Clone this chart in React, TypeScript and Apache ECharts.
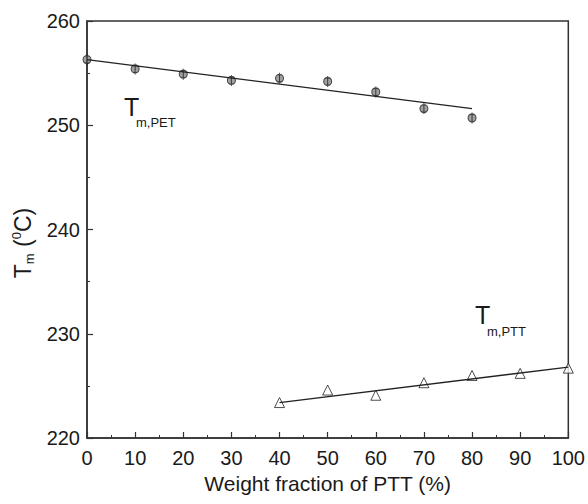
import { useEffect, useRef } from 'react';
import * as echarts from 'echarts';

const petX = [0, 10, 20, 30, 40, 50, 60, 70, 80];
const petY = [256.3, 255.4, 254.9, 254.3, 254.5, 254.2, 253.2, 251.6, 250.7];
const pttX = [40, 50, 60, 70, 80, 90, 100];
const pttY = [223.4, 224.6, 224.1, 225.3, 226.0, 226.2, 226.7];
const petFitX = [0, 80];
const petFitY = [256.3, 251.6];
const pttFitX = [40, 100];
const pttFitY = [223.4, 226.8];
const xTickValues = [0, 10, 20, 30, 40, 50, 60, 70, 80, 90, 100];
const yTickValues = [220, 230, 240, 250, 260];

const FONT = "'Liberation Sans', Arial, Helvetica, sans-serif";
const INK = '#1a1a1a';

const pair = (xs: number[], ys: number[]) => xs.map((x, i) => [x, ys[i]]);

export default function App() {
  const ref = useRef<HTMLDivElement>(null);
  useEffect(() => {
    if (!ref.current) return;
    const chart = echarts.init(ref.current, null, { renderer: 'svg' });
    const axisCommon = {
      axisLine: { show: true, lineStyle: { color: '#333', width: 1.5 } },
      axisTick: { show: true, inside: true, length: 6, lineStyle: { color: '#333', width: 1.2 } },
      minorTick: { show: true, splitNumber: 2, length: 3, lineStyle: { color: '#333', width: 1 } },
      splitLine: { show: false },
      axisLabel: { color: INK, fontSize: 20, fontFamily: FONT },
    };
    chart.setOption({
      animation: false,
      backgroundColor: '#fff',
      grid: {
        left: 87, right: 16, top: 21, bottom: 66,
        show: true, borderColor: '#333', borderWidth: 1.5, backgroundColor: 'transparent',
      },
      xAxis: {
        type: 'value', min: xTickValues[0], max: xTickValues[xTickValues.length - 1], interval: 10,
        ...axisCommon,
        axisLabel: { ...axisCommon.axisLabel, margin: 10 },
        name: 'Weight fraction of PTT (%)',
        nameLocation: 'middle', nameGap: 34,
        nameTextStyle: { color: INK, fontSize: 21, fontFamily: FONT },
      },
      yAxis: {
        type: 'value', min: yTickValues[0], max: yTickValues[yTickValues.length - 1], interval: 10,
        ...axisCommon,
        axisLabel: { ...axisCommon.axisLabel, margin: 7 },
      },
      series: [
        {
          type: 'line', data: pair(petFitX, petFitY), symbol: 'none',
          lineStyle: { color: '#222', width: 1.3 }, silent: true,
        },
        {
          type: 'line', data: pair(pttFitX, pttFitY), symbol: 'none',
          lineStyle: { color: '#222', width: 1.3 }, silent: true,
        },
        {
          type: 'scatter', data: pair(petX, petY),
          symbol: 'path://M0,-5 A5,5 0 1,1 0,5 A5,5 0 1,1 0,-5 Z M0,-7 L0,7',
          symbolSize: [8, 11],
          itemStyle: { color: '#8a8a8a', borderColor: '#222', borderWidth: 1.2 },
        },
        {
          type: 'scatter', data: pair(pttX, pttY),
          symbol: 'triangle', symbolSize: 10,
          itemStyle: { color: '#fff', borderColor: '#222', borderWidth: 1 },
        },
      ],
      graphic: [
        {
          type: 'text', x: 23, y: 243, rotation: Math.PI / 2,
          style: {
            text: '{t|T}{s|m}{t| (}{p|0}{t|C)}',
            align: 'center', verticalAlign: 'middle',
            rich: {
              t: { fontSize: 23, fontFamily: FONT, fill: INK, lineHeight: 26 },
              s: { fontSize: 13, fontFamily: FONT, fill: INK, verticalAlign: 'bottom', lineHeight: 26 },
              p: { fontSize: 13, fontFamily: FONT, fill: INK, verticalAlign: 'top', lineHeight: 26 },
            },
          },
        },
        {
          type: 'text', x: 124, y: 119,
          style: { text: 'T', fontSize: 25, fontFamily: FONT, fill: INK, align: 'left', verticalAlign: 'bottom' },
        },
        {
          type: 'text', x: 136, y: 129,
          style: { text: 'm,PET', fontSize: 13, fontFamily: FONT, fill: INK, align: 'left', verticalAlign: 'bottom' },
        },
        {
          type: 'text', x: 475, y: 327,
          style: { text: 'T', fontSize: 25, fontFamily: FONT, fill: INK, align: 'left', verticalAlign: 'bottom' },
        },
        {
          type: 'text', x: 487, y: 338,
          style: { text: 'm,PTT', fontSize: 13, fontFamily: FONT, fill: INK, align: 'left', verticalAlign: 'bottom' },
        },
      ],
    });
    return () => chart.dispose();
  }, []);
  return <div ref={ref} style={{ position: 'fixed', left: 0, top: 0, width: 588, height: 504 }} />;
}
